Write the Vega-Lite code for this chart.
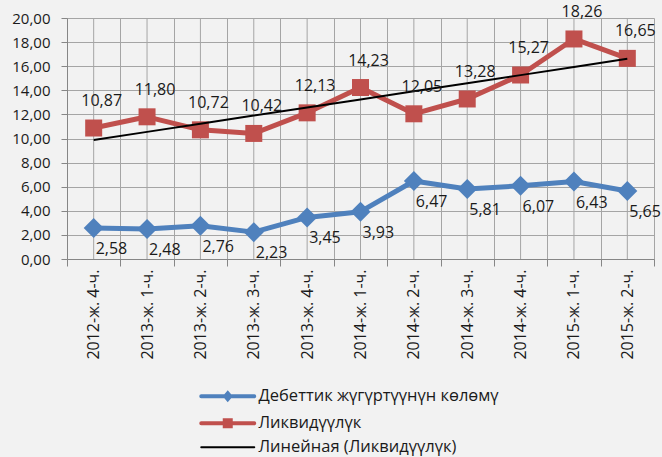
{
  "$schema": "https://vega.github.io/schema/vega-lite/v6.json",
  "width": 587,
  "height": 241,
  "autosize": {"type": "none"},
  "padding": {"left": 67, "top": 18, "right": 8, "bottom": 198},
  "background": "#f2f2f2",
  "config": {
    "locale": {"number": {"decimal": ",", "thousands": " ", "grouping": [3], "currency": ["", ""]}},
    "view": {"stroke": null},
    "font": "Open Sans",
    "axis": {"labelOverlap": false},
    "axisY": {"labelOverlap": false},
    "axisQuantitative": {"labelOverlap": false}
  },
  "data": {
    "values": [
      {"period": "2012-ж. 4-ч.", "series": "Дебеттик жүгүртүүнүн көлөмү", "value": 2.58},
      {"period": "2013-ж. 1-ч.", "series": "Дебеттик жүгүртүүнүн көлөмү", "value": 2.48},
      {"period": "2013-ж. 2-ч.", "series": "Дебеттик жүгүртүүнүн көлөмү", "value": 2.76},
      {"period": "2013-ж. 3-ч.", "series": "Дебеттик жүгүртүүнүн көлөмү", "value": 2.23},
      {"period": "2013-ж. 4-ч.", "series": "Дебеттик жүгүртүүнүн көлөмү", "value": 3.45},
      {"period": "2014-ж. 1-ч.", "series": "Дебеттик жүгүртүүнүн көлөмү", "value": 3.93},
      {"period": "2014-ж. 2-ч.", "series": "Дебеттик жүгүртүүнүн көлөмү", "value": 6.47},
      {"period": "2014-ж. 3-ч.", "series": "Дебеттик жүгүртүүнүн көлөмү", "value": 5.81},
      {"period": "2014-ж. 4-ч.", "series": "Дебеттик жүгүртүүнүн көлөмү", "value": 6.07},
      {"period": "2015-ж. 1-ч.", "series": "Дебеттик жүгүртүүнүн көлөмү", "value": 6.43},
      {"period": "2015-ж. 2-ч.", "series": "Дебеттик жүгүртүүнүн көлөмү", "value": 5.65},
      {"period": "2012-ж. 4-ч.", "series": "Ликвидүүлүк", "value": 10.87},
      {"period": "2013-ж. 1-ч.", "series": "Ликвидүүлүк", "value": 11.80},
      {"period": "2013-ж. 2-ч.", "series": "Ликвидүүлүк", "value": 10.72},
      {"period": "2013-ж. 3-ч.", "series": "Ликвидүүлүк", "value": 10.42},
      {"period": "2013-ж. 4-ч.", "series": "Ликвидүүлүк", "value": 12.13},
      {"period": "2014-ж. 1-ч.", "series": "Ликвидүүлүк", "value": 14.23},
      {"period": "2014-ж. 2-ч.", "series": "Ликвидүүлүк", "value": 12.05},
      {"period": "2014-ж. 3-ч.", "series": "Ликвидүүлүк", "value": 13.28},
      {"period": "2014-ж. 4-ч.", "series": "Ликвидүүлүк", "value": 15.27},
      {"period": "2015-ж. 1-ч.", "series": "Ликвидүүлүк", "value": 18.26},
      {"period": "2015-ж. 2-ч.", "series": "Ликвидүүлүк", "value": 16.65},
      {"period": "2012-ж. 4-ч.", "series": "Линейная (Ликвидүүлүк)", "value": 9.88},
      {"period": "2013-ж. 1-ч.", "series": "Линейная (Ликвидүүлүк)", "value": 10.55},
      {"period": "2013-ж. 2-ч.", "series": "Линейная (Ликвидүүлүк)", "value": 11.23},
      {"period": "2013-ж. 3-ч.", "series": "Линейная (Ликвидүүлүк)", "value": 11.90},
      {"period": "2013-ж. 4-ч.", "series": "Линейная (Ликвидүүлүк)", "value": 12.57},
      {"period": "2014-ж. 1-ч.", "series": "Линейная (Ликвидүүлүк)", "value": 13.24},
      {"period": "2014-ж. 2-ч.", "series": "Линейная (Ликвидүүлүк)", "value": 13.92},
      {"period": "2014-ж. 3-ч.", "series": "Линейная (Ликвидүүлүк)", "value": 14.59},
      {"period": "2014-ж. 4-ч.", "series": "Линейная (Ликвидүүлүк)", "value": 15.26},
      {"period": "2015-ж. 1-ч.", "series": "Линейная (Ликвидүүлүк)", "value": 15.94},
      {"period": "2015-ж. 2-ч.", "series": "Линейная (Ликвидүүлүк)", "value": 16.61}
    ]
  },
  "encoding": {
    "x": {
      "field": "period", "type": "ordinal", "sort": null,
      "scale": {"type": "band", "paddingInner": 0, "paddingOuter": 0},
      "axis": {
        "title": null, "tickBand": "extent", "grid": true, "gridColor": "#a5a5a5", "gridWidth": 1,
        "domainColor": "#868686", "domainWidth": 1, "tickColor": "#868686", "tickSize": 7,
        "labelAngle": -90, "labelPadding": 3, "labelFont": "Open Sans", "labelFontSize": 16,
        "labelColor": "#1a1a1a", "labelLimit": 200, "labelOverlap": false
      }
    },
    "y": {
      "field": "value", "type": "quantitative",
      "scale": {"domain": [0, 20], "nice": false, "zero": true},
      "axis": {
        "title": null, "values": [0, 2, 4, 6, 8, 10, 12, 14, 16, 18, 20], "format": ".2f",
        "grid": true, "gridColor": "#a5a5a5", "gridWidth": 1, "labelOverlap": false, "labelSeparation": 0,
        "domainColor": "#868686", "tickColor": "#868686", "tickSize": 6, "labelPadding": 11,
        "labelFont": "Open Sans", "labelFontSize": 15, "labelColor": "#1a1a1a"
      }
    }
  },
  "layer": [
    {
      "transform": [{"filter": {"field": "series", "equal": "Дебеттик жүгүртүүнүн көлөмү"}}],
      "mark": {"type": "rule", "color": "#a5a5a5", "strokeWidth": 1},
      "encoding": {
        "y": {"datum": 0, "type": "quantitative"},
        "y2": {"datum": 20}
      }
    },
    {
      "transform": [{"filter": {"field": "series", "oneOf": ["Дебеттик жүгүртүүнүн көлөмү", "Ликвидүүлүк"]}}],
      "mark": {"type": "line", "strokeWidth": 5, "strokeJoin": "round"},
      "encoding": {
        "color": {
          "field": "series", "type": "nominal",
          "scale": {"domain": ["Дебеттик жүгүртүүнүн көлөмү", "Ликвидүүлүк"], "range": ["#4f81bd", "#c0504d"]},
          "legend": null
        }
      }
    },
    {
      "transform": [{"filter": {"field": "series", "equal": "Дебеттик жүгүртүүнүн көлөмү"}}],
      "mark": {"type": "point", "shape": "diamond", "filled": true, "size": 400, "color": "#4f81bd", "opacity": 1}
    },
    {
      "transform": [{"filter": {"field": "series", "equal": "Ликвидүүлүк"}}],
      "mark": {"type": "point", "shape": "square", "filled": true, "size": 289, "color": "#c0504d", "opacity": 1}
    },
    {
      "transform": [{"filter": {"field": "series", "equal": "Линейная (Ликвидүүлүк)"}}],
      "mark": {"type": "line", "color": "#000000", "strokeWidth": 2}
    },
    {
      "transform": [{"filter": {"field": "series", "equal": "Дебеттик жүгүртүүнүн көлөмү"}}],
      "mark": {"type": "text", "align": "left", "baseline": "middle", "dx": 2, "dy": 21, "font": "Open Sans", "fontSize": 16, "color": "#1a1a1a"},
      "encoding": {
        "text": {"field": "value", "type": "quantitative", "format": ".2f"}
      }
    },
    {
      "transform": [{"filter": {"field": "series", "equal": "Ликвидүүлүк"}}],
      "mark": {"type": "text", "align": "center", "baseline": "middle", "dx": 8, "dy": -27, "font": "Open Sans", "fontSize": 16, "color": "#1a1a1a"},
      "encoding": {
        "text": {"field": "value", "type": "quantitative", "format": ".2f"}
      }
    },
    {
      "mark": {"type": "point", "filled": true, "opacity": 0},
      "encoding": {
        "fill": {
          "field": "series", "type": "nominal",
          "scale": {"domain": ["Дебеттик жүгүртүүнүн көлөмү", "Ликвидүүлүк", "Линейная (Ликвидүүлүк)"], "range": ["#4f81bd", "#c0504d", "#000000"]},
          "legend": {
            "orient": "none", "legendX": 133, "legendY": 370, "direction": "vertical", "title": null, "padding": 0,
            "symbolSize": 100, "symbolStrokeWidth": 4, "labelOffset": 42, "rowPadding": 4, "labelLimit": 400,
            "labelFont": "Open Sans", "labelFontSize": 16.5, "labelColor": "#1a1a1a",
            "encode": {"symbols": {"update": {"opacity": {"value": 1}, "strokeCap": {"value": "round"}, "strokeWidth": {"signal": "datum.value === 'Линейная (Ликвидүүлүк)' ? 2 : 4"}}}}
          }
        },
        "stroke": {
          "field": "series", "type": "nominal",
          "scale": {"domain": ["Дебеттик жүгүртүүнүн көлөмү", "Ликвидүүлүк", "Линейная (Ликвидүүлүк)"], "range": ["#4f81bd", "#c0504d", "#000000"]},
          "legend": {
            "orient": "none", "legendX": 133, "legendY": 370, "direction": "vertical", "title": null, "padding": 0,
            "symbolSize": 100, "symbolStrokeWidth": 4, "labelOffset": 42, "rowPadding": 4, "labelLimit": 400,
            "labelFont": "Open Sans", "labelFontSize": 16.5, "labelColor": "#1a1a1a",
            "encode": {"symbols": {"update": {"opacity": {"value": 1}, "strokeCap": {"value": "round"}, "strokeWidth": {"signal": "datum.value === 'Линейная (Ликвидүүлүк)' ? 2 : 4"}}}}
          }
        },
        "shape": {
          "field": "series", "type": "nominal",
          "scale": {"domain": ["Дебеттик жүгүртүүнүн көлөмү", "Ликвидүүлүк", "Линейная (Ликвидүүлүк)"], "range": ["M-1.4,0H9.2M3.4,0L3.9,-0.6L4.4,0L3.9,0.6Z", "M-1.4,0H9.2M3.3,-0.6H4.5V0.6H3.3Z", "M-1.4,0H9.2"]},
          "legend": {
            "orient": "none", "legendX": 133, "legendY": 370, "direction": "vertical", "title": null, "padding": 0,
            "symbolSize": 100, "symbolStrokeWidth": 4, "labelOffset": 42, "rowPadding": 4, "labelLimit": 400,
            "labelFont": "Open Sans", "labelFontSize": 16.5, "labelColor": "#1a1a1a",
            "encode": {"symbols": {"update": {"opacity": {"value": 1}, "strokeCap": {"value": "round"}, "strokeWidth": {"signal": "datum.value === 'Линейная (Ликвидүүлүк)' ? 2 : 4"}}}}
          }
        }
      }
    }
  ]
}
